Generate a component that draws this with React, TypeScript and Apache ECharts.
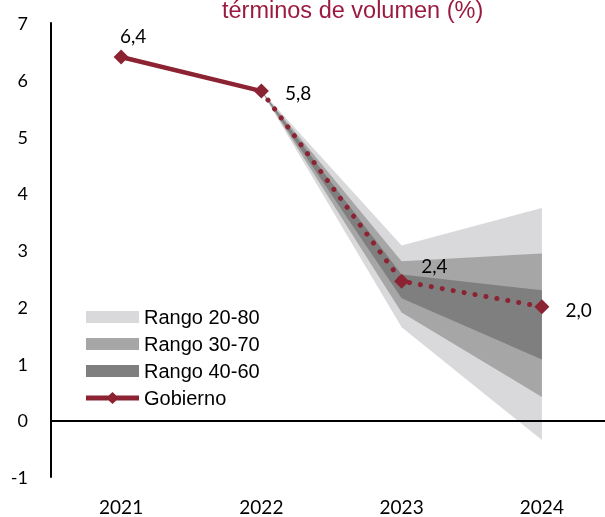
import React, { useEffect, useRef } from "react";
import * as echarts from "echarts";

const years = ["2021", "2022", "2023", "2024"];
const gobierno = [6.4, 5.8, 2.45, 2.0];
const gobiernoLabels = ["6,4", "5,8", "2,4", "2,0"];
const r20Low = [null, 5.8, 1.64, -0.35];
const r20High = [null, 5.8, 3.08, 3.74];
const r30Low = [null, 5.8, 1.9, 0.41];
const r30High = [null, 5.8, 2.8, 2.94];
const r40Low = [null, 5.8, 2.15, 1.07];
const r40High = [null, 5.8, 2.57, 2.29];
const yTicks = [-1, 0, 1, 2, 3, 4, 5, 6, 7];

const RED = "#8c2333";
const NUM_FONT = "Lato";
const LEGEND_LINE_ICON =
  "path://M2,3.6 L55,3.6 L55,8.4 L2,8.4 Z M28.5,0 L35,6 L28.5,12 L22,6 Z";

function diff(hi: (number | null)[], lo: (number | null)[]) {
  return hi.map((v, i) => (v == null || lo[i] == null ? null : +(v - (lo[i] as number)).toFixed(4)));
}

function band(name: string, stack: string, lo: (number | null)[], hi: (number | null)[], color: string) {
  return [
    {
      name: stack + "_base",
      type: "line",
      stack,
      stackStrategy: "all",
      data: lo,
      symbol: "none",
      lineStyle: { width: 0, opacity: 0 },
      silent: true,
    },
    {
      name,
      type: "line",
      stack,
      stackStrategy: "all",
      data: diff(hi, lo),
      symbol: "none",
      color,
      itemStyle: { color },
      lineStyle: { width: 0, opacity: 0 },
      areaStyle: { color, opacity: 1 },
      silent: true,
    },
  ];
}

const labelOffsets: [number, number][] = [
  [12, 0],
  [11, 1],
  [7, -16],
  [11, 3],
];

export default function App() {
  const ref = useRef<HTMLDivElement>(null);
  useEffect(() => {
    if (!ref.current) return;
    const chart = echarts.init(ref.current, undefined, { renderer: "svg" });
    const lbl = (i: number, pos: string) => ({
      show: true,
      position: pos,
      offset: labelOffsets[i],
      formatter: gobiernoLabels[i],
      color: "#000",
      fontFamily: NUM_FONT,
      fontSize: 19,
    });
    chart.setOption({
      animation: false,
      grid: { left: 51, top: 23, width: 561, height: 454, outerBoundsMode: "none", containLabel: false },
      graphic: [
        {
          type: "text",
          left: 222,
          top: -2,
          style: {
            text: "términos de volumen (%)",
            fill: "#9b1b40",
            font: "23.5px 'Liberation Sans', Arial, sans-serif",
          },
        },
      ],
      legend: {
        orient: "vertical",
        left: 81,
        top: 302,
        itemWidth: 53,
        itemHeight: 12,
        itemGap: 7,
        textStyle: {
          fontFamily: "'Liberation Sans', Arial, sans-serif",
          fontSize: 20,
          lineHeight: 20,
          color: "#000",
        },
        data: [
          { name: "Rango 20-80", icon: "rect" },
          { name: "Rango 30-70", icon: "rect" },
          { name: "Rango 40-60", icon: "rect" },
          { name: "Gobierno", icon: LEGEND_LINE_ICON, itemStyle: { color: RED } },
        ],
        selectedMode: false,
      },
      xAxis: {
        type: "category",
        data: years,
        boundaryGap: true,
        axisLine: { show: false },
        axisTick: { show: false },
        splitLine: { show: false },
        axisLabel: {
          margin: 20,
          color: "#000",
          fontFamily: NUM_FONT,
          fontSize: 19,
        },
      },
      yAxis: {
        type: "value",
        min: yTicks[0],
        max: yTicks[yTicks.length - 1],
        interval: 1,
        axisLine: { show: true, onZero: false, lineStyle: { color: "#000", width: 2 } },
        axisTick: { show: false },
        splitLine: { show: false },
        axisLabel: {
          margin: 23,
          color: "#000",
          fontFamily: NUM_FONT,
          fontSize: 18,
        },
      },
      series: [
        ...band("Rango 20-80", "s20", r20Low, r20High, "#d9d9db"),
        ...band("Rango 30-70", "s30", r30Low, r30High, "#a6a6a6"),
        ...band("Rango 40-60", "s40", r40Low, r40High, "#7f7f7f"),
        {
          name: "Proyeccion",
          type: "line",
          data: gobierno.map((v, i) =>
            i === 0
              ? null
              : i === 1
              ? { value: v, symbol: "none" }
              : { value: v, label: lbl(i, "right") }
          ),
          symbol: "diamond",
          symbolSize: 15,
          itemStyle: { color: RED },
          lineStyle: { color: RED, width: 5, type: [0.1, 11], cap: "round" },
          markLine: {
            silent: true,
            symbol: ["none", "none"],
            label: { show: false },
            lineStyle: { color: "#000", width: 2, type: "solid" },
            data: [{ yAxis: 0 }],
          },
          z: 5,
        },
        {
          name: "Gobierno",
          type: "line",
          data: gobierno.map((v, i) =>
            i === 0
              ? { value: v, label: lbl(0, "top") }
              : i === 1
              ? { value: v, label: lbl(1, "right") }
              : null
          ),
          symbol: "diamond",
          symbolSize: 15,
          color: RED,
          itemStyle: { color: RED },
          lineStyle: { color: RED, width: 4.5 },
          z: 6,
        },
      ],
    });
    return () => chart.dispose();
  }, []);
  return (
    <div
      ref={ref}
      style={{ position: "fixed", left: 0, top: 0, width: 605, height: 517 }}
    />
  );
}
